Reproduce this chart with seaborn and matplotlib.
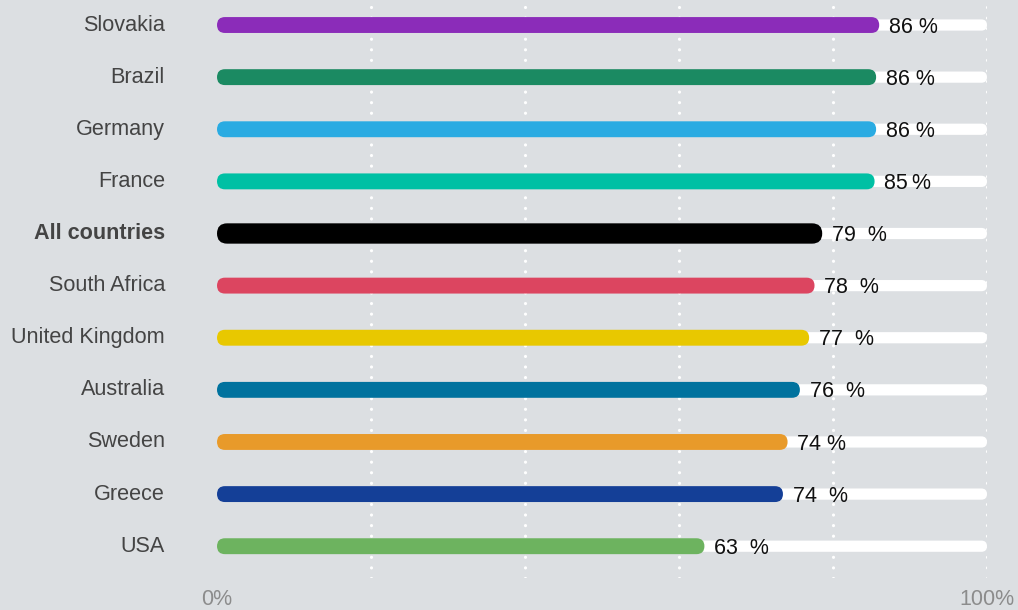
import matplotlib
matplotlib.use("Agg")
import matplotlib.pyplot as plt
from matplotlib.patches import FancyBboxPatch
from matplotlib.transforms import ScaledTranslation, blended_transform_factory
import seaborn as sns
import pandas as pd

countries = ["Slovakia", "Brazil", "Germany", "France", "All countries",
             "South Africa", "United Kingdom", "Australia", "Sweden",
             "Greece", "USA"]
shares = [86.0, 85.6, 85.6, 85.4, 78.6, 77.6, 76.9, 75.7, 74.1, 73.5, 63.3]
label_gaps = [" ", " ", " ", "\u2009", "  ", "  ", "  ", "  ", " ", "  ", "  "]
colors = ["#8b2cb9", "#1b8a62", "#2aabe2", "#00c0a4", "#000000",
          "#dc4560", "#e8c800", "#00729e", "#e89a2a", "#143f97", "#6db35f"]
x_tick_values = [0, 100]
x_tick_labels = ["0%", "100%"]
grid_values = [20, 40, 60, 80, 100]

BG = "#dcdfe2"
sns.set_theme(style="white")
plt.rcParams["font.family"] = ["Liberation Sans", "DejaVu Sans"]

W, H, DPI = 1018, 610, 100
fig = plt.figure(figsize=(W / DPI, H / DPI), dpi=DPI, facecolor=BG)
ax = fig.add_axes([217 / W, 1 - 578 / H, 770 / W, 578 / H])
ax.set_facecolor(BG)

df = pd.DataFrame({"country": countries, "share": shares,
                   "full": [100] * len(countries)})

# white background tracks running to 100 %
sns.barplot(data=df, y="country", x="full", color="white", width=0.215,
            orient="h", ax=ax, saturation=1, zorder=2)
n_track = len(ax.patches)
# coloured value bars
sns.barplot(data=df, y="country", x="share", hue="country",
            palette=dict(zip(countries, colors)), width=0.305, orient="h",
            ax=ax, saturation=1, legend=False, zorder=3)

ax.set_xlim(0, 100)
ax.set_ylim(10.61, -0.48)

# pixel aspect so that rounded ends are true semicircles
x_per_px = 100 / 770
y_per_px = (10.61 + 0.48) / 578
aspect = y_per_px / x_per_px

patches = list(ax.patches)
for i, p in enumerate(patches):
    x0, y0, w, h = p.get_x(), p.get_y(), p.get_width(), p.get_height()
    yc = y0 + h / 2
    is_bar = i >= n_track
    if is_bar and abs(yc - countries.index("All countries")) < 0.01:
        h = 0.39
        y0 = yc - h / 2
    r = (h / aspect) / 2
    fb = FancyBboxPatch((x0, y0), w, h,
                        boxstyle=f"round,pad=0,rounding_size={r}",
                        mutation_aspect=aspect, facecolor=p.get_facecolor(),
                        edgecolor="none", linewidth=0,
                        zorder=3 if is_bar else 2)
    p.remove()
    ax.add_patch(fb)

# dotted vertical guides
for g in grid_values:
    ax.axvline(g, color="white", lw=2.3, linestyle=(0, (0.01, 3.3)),
               dash_capstyle="round", zorder=1)

# value labels
for i, (v, gap) in enumerate(zip(shares, label_gaps)):
    ax.annotate(f"{round(v)}{gap}%", xy=(v, i), xytext=(7, -1.5),
                textcoords="offset points", va="center", ha="left",
                fontsize=15.5, color="#111111", zorder=5)

# category names, right-aligned left of the bars
ax.set_yticks(range(len(countries)))
ax.set_yticklabels([])
ax.tick_params(axis="y", length=0)
name_trans = blended_transform_factory(ax.transAxes, ax.transData) + \
    ScaledTranslation(-52 / DPI, 0, fig.dpi_scale_trans)
for i, name in enumerate(countries):
    ax.text(0, i, name, transform=name_trans, ha="right", va="center",
            fontsize=15.6, color="#444444",
            fontweight="bold" if name == "All countries" else "normal")

ax.set_xticks(x_tick_values)
ax.set_xticklabels(x_tick_labels)
ax.tick_params(axis="x", length=0, pad=8, labelsize=15.5, labelcolor="#8c8c8c")

ax.set_xlabel("")
ax.set_ylabel("")
for s in ax.spines.values():
    s.set_visible(False)

fig.savefig("out.png", dpi=DPI, facecolor=BG)
